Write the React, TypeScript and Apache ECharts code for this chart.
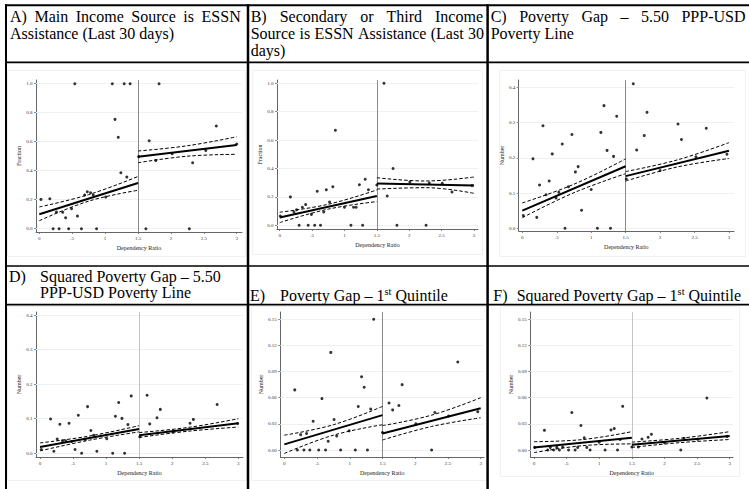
import React, { useEffect, useRef } from "react";
import * as echarts from "echarts";

// ---------- data ----------
const xTicks = [0, 0.5, 1, 1.5, 2, 2.5, 3];
const xTickLabels = ["0", ".5", "1", "1.5", "2", "2.5", "3"];
const yTicksFraction = [0, 0.2, 0.4, 0.6, 0.8, 1.0];
const yTicksNumber = [0, 0.1, 0.2, 0.3, 0.4];
const yTicksQuintile = [0, 0.03, 0.06, 0.09, 0.12, 0.15];
const cutoff = 1.5;
const xAxisName = "Dependency Ratio";

// binned scatter points [dependency ratio, outcome]
const pointsA: number[][] = [
  [0.025, 0.202], [0.16, 0.207], [0.21, 0], [0.26, 0.115], [0.3, 0], [0.355, 0.113], [0.4, 0.076],
  [0.446, 0], [0.49, 0.138], [0.54, 1.0], [0.58, 0.087], [0.64, 0], [0.69, 0.232], [0.73, 0.255],
  [0.78, 0.248], [0.82, 0.232], [0.87, 0], [1.01, 0.218], [1.11, 1.0], [1.15, 0.754], [1.2, 0.63],
  [1.24, 0.386], [1.29, 1.0], [1.33, 0.356], [1.38, 1.0],
  [1.51, 0.497], [1.62, 0], [1.67, 0.607], [1.77, 0.471], [1.82, 1.0], [2.02, 0.517], [2.28, 0],
  [2.33, 0.455], [2.53, 0.54], [2.69, 0.708], [3.0, 0.584],
];
const pointsB: number[][] = [
  [0.01, 0.066], [0.165, 0.2], [0.22, 0.094], [0.26, 0.11], [0.3, 0], [0.35, 0.127], [0.4, 0.146],
  [0.44, 0], [0.49, 0.077], [0.54, 0], [0.58, 0.24], [0.63, 0], [0.68, 0.094], [0.72, 0.25],
  [0.77, 0.164], [0.82, 0.272], [0.86, 0.669], [1.0, 0.127], [1.1, 0], [1.14, 0.127], [1.18, 0.127],
  [1.23, 0.286], [1.28, 0], [1.32, 0.324], [1.37, 0.25],
  [1.5, 0.284], [1.61, 1.0], [1.66, 0.206], [1.75, 0.4], [1.81, 0], [2.01, 0.305], [2.26, 0],
  [2.31, 0.298], [2.51, 0.296], [2.66, 0.235], [2.97, 0.28],
];
const pointsC: number[][] = [
  [0.015, 0.036], [0.155, 0.197], [0.21, 0.031], [0.25, 0.123], [0.3, 0.291], [0.345, 0.095],
  [0.39, 0.134], [0.435, 0.211], [0.49, 0.086], [0.53, 0.102], [0.58, 0.239], [0.62, 0],
  [0.67, 0.118], [0.72, 0.266], [0.77, 0.16], [0.81, 0.175], [0.86, 0.051], [1.0, 0.11],
  [1.09, 0], [1.14, 0.272], [1.185, 0.348], [1.23, 0.221], [1.28, 0], [1.325, 0.204], [1.37, 0.318],
  [1.51, 0.14], [1.61, 0.41], [1.66, 0.222], [1.77, 0.263], [1.81, 0.329], [2.0, 0.164],
  [2.26, 0.296], [2.31, 0.252], [2.52, 0.203], [2.67, 0.284], [2.97, 0.21],
];
const pointsD: number[][] = [
  [0.02, 0.011], [0.16, 0.099], [0.21, 0.006], [0.26, 0.041], [0.3, 0.084], [0.34, 0.036],
  [0.39, 0.036], [0.44, 0.087], [0.48, 0.034], [0.53, 0.011], [0.58, 0.11], [0.63, 0],
  [0.68, 0.04], [0.72, 0.135], [0.77, 0.066], [0.81, 0.052], [0.86, 0.006], [1.01, 0.042],
  [1.1, 0], [1.14, 0.107], [1.19, 0.147], [1.24, 0.101], [1.28, 0], [1.33, 0.083], [1.38, 0.166],
  [1.51, 0.048], [1.62, 0.168], [1.66, 0.085], [1.77, 0.103], [1.82, 0.127], [2.01, 0.062],
  [2.27, 0.087], [2.32, 0.098], [2.68, 0.141], [2.99, 0.086],
];
const pointsE: number[][] = [
  [0.16, 0.069], [0.2, 0], [0.25, 0.0176], [0.3, 0], [0.34, 0.019], [0.39, 0], [0.44, 0.033],
  [0.525, 0], [0.575, 0.059], [0.63, 0], [0.67, 0.01], [0.71, 0.112], [0.76, 0.035], [0.8, 0.016],
  [0.86, 0], [0.99, 0.022], [1.085, 0], [1.13, 0.05], [1.18, 0.084], [1.22, 0.072], [1.27, 0],
  [1.32, 0.047], [1.365, 0.15],
  [1.5, 0.02], [1.6, 0.054], [1.655, 0.046], [1.75, 0.051], [1.8, 0.075], [2.01, 0.03],
  [2.25, 0], [2.3, 0.043], [2.51, 0.039], [2.65, 0.101], [2.955, 0.044],
];
const pointsF: number[][] = [
  [0.01, 0.003], [0.16, 0.0225], [0.21, 0], [0.25, 0.003], [0.3, 0], [0.35, 0.003], [0.39, 0],
  [0.44, 0.0034], [0.53, 0], [0.58, 0.043], [0.63, 0], [0.67, 0.003], [0.72, 0.028],
  [0.77, 0.014], [0.81, 0.003], [0.86, 0], [1.0, 0.009], [1.09, 0], [1.18, 0.023], [1.23, 0.0245],
  [1.28, 0], [1.32, 0.012], [1.36, 0.05],
  [1.5, 0.0034], [1.6, 0.0034], [1.655, 0.0126], [1.75, 0.0145], [1.8, 0.018], [2.0, 0.0084],
  [2.25, 0], [2.3, 0.0134], [2.51, 0.0122], [2.65, 0.0595], [2.96, 0.0156],
];

// linear fit: value at 0, at cutoff (left), at cutoff (right), at 3
const fitA = [0.1, 0.315, 0.497, 0.577];
const fitB = [0.055, 0.207, 0.295, 0.28];
const fitC = [0.05, 0.176, 0.148, 0.22];
const fitD = [0.018, 0.07, 0.052, 0.087];
const fitE = [0.0065, 0.04, 0.019, 0.048];
const fitF = [0.003, 0.014, 0.006, 0.016];
// confidence band: at 0, .75, 1.5 | 1.5, 2.25, 3
const ciHiA = [0.15, 0.235, 0.36, 0.536, 0.572, 0.634];
const ciLoA = [0.055, 0.19, 0.265, 0.455, 0.5, 0.513];
const ciHiB = [0.092, 0.148, 0.249, 0.335, 0.312, 0.34];
const ciLoB = [0.019, 0.114, 0.167, 0.255, 0.265, 0.225];
const ciHiC = [0.072, 0.125, 0.197, 0.161, 0.194, 0.243];
const ciLoC = [0.03, 0.101, 0.155, 0.134, 0.174, 0.198];
const ciHiD = [0.03, 0.05, 0.08, 0.06, 0.075, 0.1];
const ciLoD = [0.007, 0.038, 0.062, 0.046, 0.064, 0.076];
const ciHiE = [0.017, 0.029, 0.05, 0.028, 0.04, 0.06];
const ciLoE = [-0.004, 0.017, 0.029, 0.0115, 0.027, 0.037];
const ciHiF = [0.0095, 0.012, 0.021, 0.009, 0.0135, 0.021];
const ciLoF = [-0.003, 0.005, 0.007, 0.003, 0.0085, 0.012];

// ---------- layout ----------
const SERIF = "'Liberation Serif', 'Times New Roman', serif";

type Panel = {
  points: number[][]; fit: number[]; hi: number[]; lo: number[];
  yTicks: number[]; dec: number; yName: string;
  box: number[]; cal: number[]; yNameGap: number; cut: string; frame: number[];
};

const panels: Panel[] = [
  { points: pointsA, fit: fitA, hi: ciHiA, lo: ciLoA, yTicks: yTicksFraction, dec: 1, yName: "Fraction",
    box: [36, 242, 80, 232], cal: [39.3, 236.7, 228.7, 83.7], yNameGap: 13, cut: "#8a8a8a", frame: [7, 70, 245, 256] },
  { points: pointsB, fit: fitB, hi: ciHiB, lo: ciLoB, yTicks: yTicksFraction, dec: 1, yName: "Fraction",
    box: [277, 478, 80, 229], cal: [279.7, 474, 225.3, 83.3], yNameGap: 13, cut: "#8a8a8a", frame: [252, 70, 482, 254] },
  { points: pointsC, fit: fitC, hi: ciHiC, lo: ciLoC, yTicks: yTicksNumber, dec: 1, yName: "Number",
    box: [518.7, 734, 80, 231], cal: [522.3, 729, 228.3, 87.3], yNameGap: 14, cut: "#8a8a8a", frame: [499, 70, 745, 256] },
  { points: pointsD, fit: fitD, hi: ciHiD, lo: ciLoD, yTicks: yTicksNumber, dec: 1, yName: "Number",
    box: [36, 243, 312, 457], cal: [40, 238.3, 453.3, 315], yNameGap: 14, cut: "#c4c4c4", frame: [7, 306, 246, 480] },
  { points: pointsE, fit: fitE, hi: ciHiE, lo: ciLoE, yTicks: yTicksQuintile, dec: 2, yName: "Number",
    box: [280.3, 484, 312, 457], cal: [284.3, 480.7, 450, 319.3], yNameGap: 16, cut: "#8a8a8a", frame: [251, 306, 486, 480] },
  { points: pointsF, fit: fitF, hi: ciHiF, lo: ciLoF, yTicks: yTicksQuintile, dec: 2, yName: "Number",
    box: [530.3, 733, 312, 457], cal: [534, 729.7, 450, 319], yNameGap: 16, cut: "#c4c4c4", frame: [500, 306, 739, 476] },
];

type Seg = { t: string; x?: number; sup?: boolean };
type TLine = { segs: Seg[]; baseline: number; justify?: [number, number] };

const titleLines: TLine[] = [
  { segs: [{ t: "A) Main Income Source is ESSN", x: 10 }], baseline: 22.3, justify: [10, 240.7] },
  { segs: [{ t: "Assistance (Last 30 days)", x: 10 }], baseline: 39.3 },
  { segs: [{ t: "B) Secondary or Third Income", x: 250.7 }], baseline: 22.3, justify: [250.7, 483] },
  { segs: [{ t: "Source is ESSN Assistance (Last 30", x: 250.7 }], baseline: 39.3, justify: [250.7, 484] },
  { segs: [{ t: "days)", x: 250.7 }], baseline: 56.3 },
  { segs: [{ t: "C) Poverty Gap \u2013 5.50 PPP-USD", x: 490.7 }], baseline: 22.3, justify: [490.7, 745.5] },
  { segs: [{ t: "Poverty Line", x: 490.7 }], baseline: 39.3 },
  { segs: [{ t: "D)", x: 9 }, { t: "Squared Poverty Gap \u2013 5.50", x: 40 }], baseline: 281.7 },
  { segs: [{ t: "PPP-USD Poverty Line", x: 40 }], baseline: 298.3 },
  { segs: [{ t: "E)", x: 250 }, { t: "Poverty Gap \u2013 1", x: 280 }, { t: "st", sup: true }, { t: " Quintile" }], baseline: 301 },
  { segs: [{ t: "F)", x: 493.3 }, { t: "Squared Poverty Gap \u2013 1", x: 516.7 }, { t: "st", sup: true }, { t: " Quintile" }], baseline: 301 },
];

function buildTitles(): any[] {
  const canvas = document.createElement("canvas");
  const ctx = canvas.getContext("2d")!;
  const out: any[] = [];
  const mk = (text: string, x: number, baseline: number, size: number) => ({
    type: "text", x, y: baseline - 0.3375 * size, silent: true,
    style: { text, fontSize: size, fontFamily: SERIF, fill: "#000", align: "left", verticalAlign: "middle" },
  });
  for (const line of titleLines) {
    if (line.justify) {
      const words = line.segs[0].t.split(" ");
      ctx.font = `16px ${SERIF}`;
      const ws = words.map((w) => ctx.measureText(w).width);
      const total = ws.reduce((a, b) => a + b, 0);
      const [x0, x1] = line.justify;
      const gap = (x1 - x0 - total) / (words.length - 1);
      let x = x0;
      words.forEach((w, i) => { out.push(mk(w, x, line.baseline, 16)); x += ws[i] + gap; });
    } else {
      let x = 0;
      for (const s of line.segs) {
        if (s.x !== undefined) x = s.x;
        const size = s.sup ? 10.5 : 16;
        ctx.font = `${size}px ${SERIF}`;
        out.push(mk(s.t, x, s.sup ? line.baseline - 5.5 : line.baseline, size));
        x += ctx.measureText(s.t).width;
      }
    }
  }
  return out;
}

function tableLines(): any[] {
  const L = (x1: number, y1: number, x2: number, y2: number, w: number) => ({
    type: "line", silent: true, shape: { x1, y1, x2, y2 }, style: { stroke: "#000", lineWidth: w }, z: 10,
  });
  return [
    L(5, 5.3, 749, 5.3, 2),
    L(6, 4.3, 6, 489, 2),
    L(248, 4.3, 248, 489, 2.5),
    L(487.6, 4.3, 487.6, 489, 2.5),
    L(5, 62.3, 749, 62.3, 1.7),
    L(5, 266, 749, 266, 1.7),
    L(5, 304.6, 749, 304.6, 1.7),
  ];
}

function buildOption(): any {
  const grid: any[] = [];
  const xAxis: any[] = [];
  const yAxis: any[] = [];
  const series: any[] = [];
  const frames: any[] = [];
  panels.forEach((p, i) => {
    const [L, R, T, B] = p.box;
    const [x0, x3, yv0, yvT] = p.cal;
    const yTop = p.yTicks[p.yTicks.length - 1];
    const pxX = (x3 - x0) / 3;
    const pxY = (yv0 - yvT) / yTop;
    grid.push({ left: L, top: T, width: R - L, height: B - T, containLabel: false });
    const axisCol = "#666";
    xAxis.push({
      gridIndex: i, type: "value", min: (L - x0) / pxX, max: (R - x0) / pxX,
      axisLine: { show: true, onZero: false, lineStyle: { color: axisCol, width: 1 } },
      axisTick: { show: true, customValues: xTicks, length: 2, lineStyle: { color: axisCol, width: 0.8 } },
      axisLabel: {
        customValues: xTicks, fontSize: 5, color: "#333", margin: 4, fontFamily: SERIF,
        formatter: (v: number) => {
          const k = xTicks.findIndex((t) => Math.abs(t - v) < 1e-6);
          return k >= 0 ? xTickLabels[k] : "";
        },
      },
      splitLine: { show: false },
      name: xAxisName, nameLocation: "middle", nameGap: 12.5,
      nameTextStyle: { fontSize: 6, color: "#222", fontFamily: SERIF },
    });
    yAxis.push({
      gridIndex: i, type: "value", min: (yv0 - B) / pxY, max: (yv0 - T) / pxY,
      axisLine: { show: true, onZero: false, lineStyle: { color: axisCol, width: 1 } },
      axisTick: { show: true, customValues: p.yTicks, length: 2, lineStyle: { color: axisCol, width: 0.8 } },
      axisLabel: {
        customValues: p.yTicks, fontSize: 5, color: "#333", margin: 3.5, fontFamily: SERIF,
        formatter: (v: number) => v.toFixed(p.dec),
      },
      splitLine: { show: false },
      name: p.yName, nameLocation: "middle", nameGap: p.yNameGap, nameRotate: 90,
      nameTextStyle: { fontSize: 6, color: "#222", fontFamily: SERIF },
    });
    series.push({
      type: "scatter", xAxisIndex: i, yAxisIndex: i, data: p.points, symbolSize: 3,
      itemStyle: { color: "#000" }, silent: true, z: 3,
      markLine: {
        silent: true, symbol: ["none", "none"], label: { show: false }, z: 1, animation: false,
        data: [
          ...p.yTicks.map((v) => ({ yAxis: v, lineStyle: { color: "#eef1f2", width: 1, type: "solid" } })),
          { xAxis: cutoff, lineStyle: { color: p.cut, width: 1, type: "solid" } },
        ],
      },
    });
    const line = (data: number[][], solid: boolean) => ({
      type: "line", xAxisIndex: i, yAxisIndex: i, data, showSymbol: false, symbol: "none",
      smooth: data.length > 2 ? 0.4 : false, silent: true, z: 4,
      lineStyle: solid ? { color: "#000", width: 2 } : { color: "#000", width: 1, type: [3.5, 2] },
    });
    series.push(line([[0, p.fit[0]], [cutoff, p.fit[1]]], true));
    series.push(line([[cutoff, p.fit[2]], [3, p.fit[3]]], true));
    series.push(line([[0, p.hi[0]], [0.75, p.hi[1]], [cutoff, p.hi[2]]], false));
    series.push(line([[cutoff, p.hi[3]], [2.25, p.hi[4]], [3, p.hi[5]]], false));
    series.push(line([[0, p.lo[0]], [0.75, p.lo[1]], [cutoff, p.lo[2]]], false));
    series.push(line([[cutoff, p.lo[3]], [2.25, p.lo[4]], [3, p.lo[5]]], false));
    const [fx0, fy0, fx1, fy1] = p.frame;
    frames.push({
      type: "rect", silent: true, z: -1,
      shape: { x: fx0 + 0.5, y: fy0 + 0.5, width: fx1 - fx0, height: fy1 - fy0 },
      style: { fill: "#fff", stroke: "#f1f1f1", lineWidth: 1 },
    });
  });
  return {
    animation: false,
    backgroundColor: "#fff",
    textStyle: { fontFamily: SERIF },
    grid, xAxis, yAxis, series,
    graphic: [...frames, ...tableLines(), ...buildTitles()],
  };
}

export default function App() {
  const ref = useRef<HTMLDivElement>(null);
  useEffect(() => {
    if (!ref.current) return;
    const chart = echarts.init(ref.current, undefined, { renderer: "svg" });
    chart.setOption(buildOption());
    return () => chart.dispose();
  }, []);
  return (
    <div
      ref={ref}
      style={{ position: "absolute", left: 0, top: 0, width: 749, height: 489, background: "#fff" }}
    />
  );
}
